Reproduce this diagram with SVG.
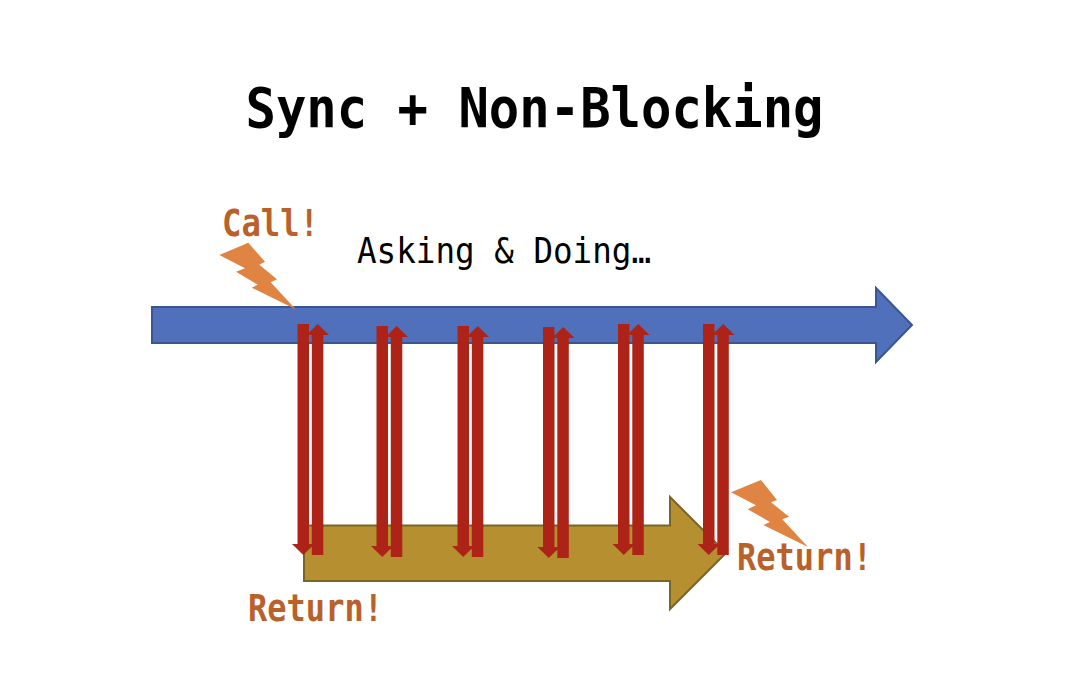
<svg xmlns="http://www.w3.org/2000/svg" width="1068" height="696" viewBox="0 0 1068 696">
<style>
.mono{font-family:"DejaVu Sans Mono","Liberation Mono",monospace}
.title{font-size:56px;font-weight:700;fill:#000}
.sub{font-size:36px;fill:#000}
.lab{font-size:38px;font-weight:700;fill:#b9602b}
.bolt{fill:#e08444}
.red{fill:#ae2317}
</style>
<defs>
<path id="pair" class="red" d="M5.500 0H17V220H22.500L11.250 231L0 220H5.500Z M25.700 0L37 11H31.300V231H19.800V11H14.500Z"/>
</defs>
<rect width="1068" height="696" fill="#fff"/>
<text class="mono title" x="245.500" y="127" textLength="578" lengthAdjust="spacingAndGlyphs">Sync + Non-Blocking</text>
<text class="mono sub" x="357" y="263" textLength="294" lengthAdjust="spacingAndGlyphs">Asking &amp; Doing…</text>
<g id="main-arrow"><path d="M152 307H876V288L912 325L876 362V343H152Z" fill="#5070bc" stroke="#3a5690" stroke-width="2"/></g>
<g id="result-arrow"><path d="M304 525.500H670V497L726 553L670 609V581H304Z" fill="#b69030" stroke="#7a6426" stroke-width="2"/></g>
<g id="connectors">
<use href="#pair" x="292" y="324"/>
<use href="#pair" x="371" y="326"/>
<use href="#pair" x="452" y="326"/>
<use href="#pair" x="537.500" y="327"/>
<use href="#pair" x="612.500" y="324"/>
<use href="#pair" x="697.500" y="324"/>
</g>
<g id="call-bolt"><path class="bolt" d="M219.300 255L248.300 242.700L265 261.700L259.300 264.700L277 279.300L270.700 282.300L295.700 309.300L251.700 287.700L257.700 284.700L236 271.700L245 268.300Z"/></g>
<g id="return-bolt"><path class="bolt" d="M731 492.300L761 480L777 500L771 502.300L789 516.700L782.300 519.300L808 547L763.300 525L770 522L747.700 509.300L756 505.300Z"/></g>
<text class="mono lab" x="222" y="236" textLength="97" lengthAdjust="spacingAndGlyphs">Call!</text>
<text class="mono lab" x="248" y="621" textLength="135" lengthAdjust="spacingAndGlyphs">Return!</text>
<text class="mono lab" x="737" y="570" textLength="135" lengthAdjust="spacingAndGlyphs">Return!</text>
</svg>
